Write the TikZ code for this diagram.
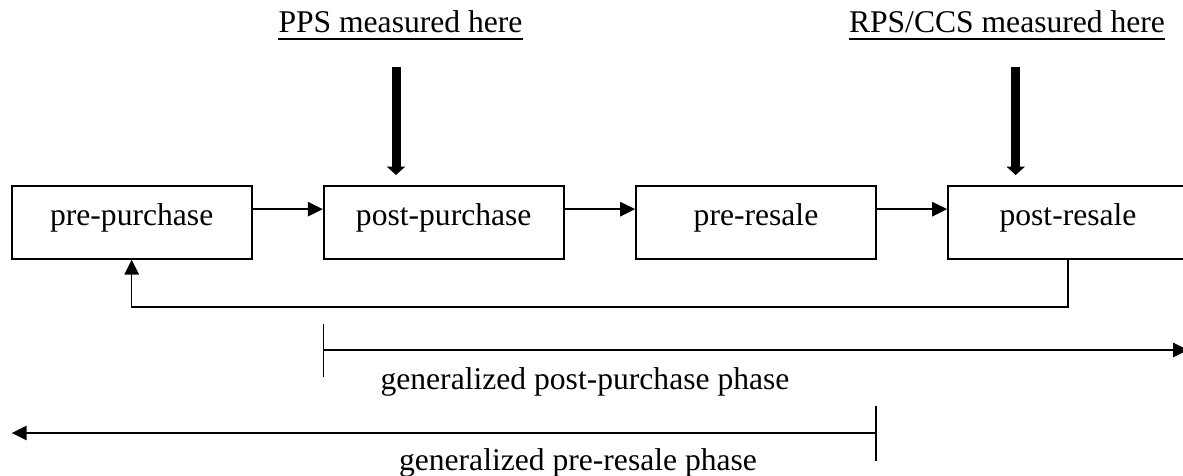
\documentclass[tikz,border=0pt]{standalone}
\usepackage{fontspec}
\setmainfont{Liberation Serif}
\usetikzlibrary{arrows.meta}
\begin{document}
\begin{tikzpicture}[x=0.5pt,y=-0.5pt,
  txt/.style={font=\fontsize{15.8}{19}\selectfont},
  phase/.style={draw, line width=0.85pt, minimum width=120pt, minimum height=36.4pt,
    inner sep=0pt, txt, text height=11pt, text depth=8.4pt},
  flow/.style={line width=0.75pt, -{Triangle[length=7.5pt,width=7.2pt]}},
  measure/.style={line width=4.5pt, -{Triangle[length=4.2pt,width=9pt]}},
  caption/.style={inner sep=0pt, txt, anchor=base},
  tick/.style={line width=0.75pt}
]
\useasboundingbox (0,0) rectangle (1183,476);

% the four phases of the purchase/resale cycle
\node[phase] (prePurchase)  at (131.7,222.4) {pre-purchase};
\node[phase] (postPurchase) at (443.7,222.4) {post-purchase};
\node[phase] (preResale)    at (756.0,222.4) {pre-resale};
\node[phase] (postResale)   at (1068.0,222.4) {post-resale};

% forward flow
\draw[flow] ([yshift=-12pt]prePurchase.north east) -- ([yshift=-12pt]postPurchase.north west);
\draw[flow] ([yshift=-12pt]postPurchase.north east) -- ([yshift=-12pt]preResale.north west);
\draw[flow] ([yshift=-12pt]preResale.north east) -- ([yshift=-12pt]postResale.north west);

% feedback loop back to the start
\draw[flow] (postResale.south) -- ++(0,47.3) -| (prePurchase.south);

% measurement points
\node[caption] (ppsLabel) at (400.5,33) {PPS measured here};
\draw[line width=1pt] ([yshift=-3.2pt]ppsLabel.base west) -- ([yshift=-3.2pt]ppsLabel.base east);
\coordinate (ppsTop) at (396,66.7);
\coordinate (ppsTip) at (396,175);
\draw[measure] (ppsTop) -- (ppsTip);

\node[caption] (rpsLabel) at (1007,33) {RPS/CCS measured here};
\draw[line width=1pt] ([yshift=-3.2pt]rpsLabel.base west) -- ([yshift=-3.2pt]rpsLabel.base east);
\coordinate (rpsTop) at (1015.7,66.7);
\coordinate (rpsTip) at (1015.7,175);
\draw[measure] (rpsTop) -- (rpsTip);

% generalized post-purchase phase
\coordinate (ppTickTop) at (323.3,324);
\coordinate (ppTickBot) at (323.3,377);
\coordinate (ppStart) at (323.3,350);
\coordinate (ppEnd) at (1188,350);
\draw[tick] (ppTickTop) -- (ppTickBot);
\draw[flow] (ppStart) -- (ppEnd);
\node[caption] (ppText) at (585,389) {generalized post-purchase phase};

% generalized pre-resale phase
\coordinate (prTickTop) at (876,406);
\coordinate (prTickBot) at (876,461);
\coordinate (prStart) at (876,433);
\coordinate (prEnd) at (11.7,433);
\draw[tick] (prTickTop) -- (prTickBot);
\draw[flow] (prStart) -- (prEnd);
\node[caption] (prText) at (578,470) {generalized pre-resale phase};
\end{tikzpicture}
\end{document}
